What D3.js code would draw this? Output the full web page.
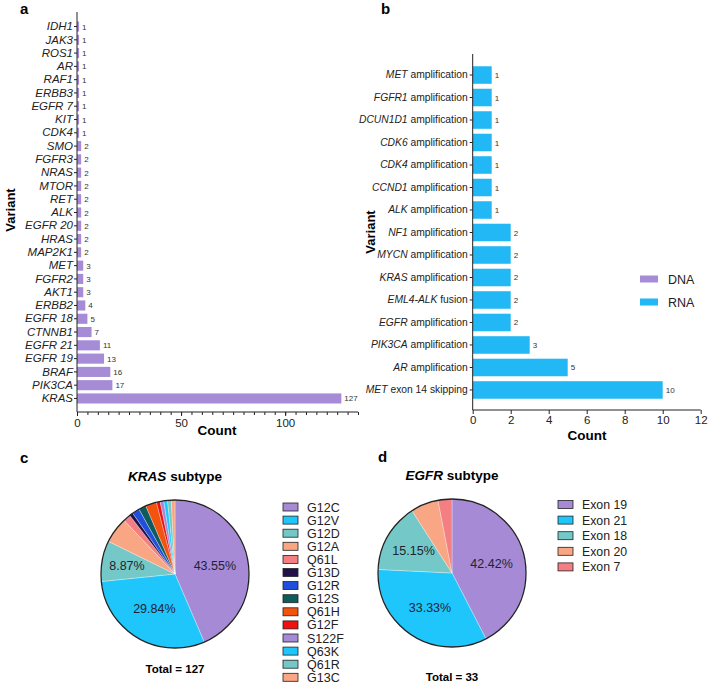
<!DOCTYPE html>
<html>
<head>
<meta charset="utf-8">
<script src="https://cdn.jsdelivr.net/npm/d3@7"></script>
<style>
  body { margin: 0; background: #fff; }
  svg { font-family: "Liberation Sans", Arial, sans-serif; }
  .axis path, .axis line { stroke: #222; }
  .axis text { fill: #222; }
</style>
</head>
<body>
<svg id="fig" width="709" height="693"></svg>
<script>
const dnaVariants = ["IDH1", "JAK3", "ROS1", "AR", "RAF1", "ERBB3", "EGFR 7", "KIT", "CDK4", "SMO", "FGFR3", "NRAS", "MTOR", "RET", "ALK", "EGFR 20", "HRAS", "MAP2K1", "MET", "FGFR2", "AKT1", "ERBB2", "EGFR 18", "CTNNB1", "EGFR 21", "EGFR 19", "BRAF", "PIK3CA", "KRAS"];
const dnaCounts = [1, 1, 1, 1, 1, 1, 1, 1, 1, 2, 2, 2, 2, 2, 2, 2, 2, 2, 3, 3, 3, 4, 5, 7, 11, 13, 16, 17, 127];

const rnaVariants = ["MET amplification", "FGFR1 amplification", "DCUN1D1 amplification", "CDK6 amplification", "CDK4 amplification", "CCND1 amplification", "ALK amplification", "NF1 amplification", "MYCN amplification", "KRAS amplification", "EML4-ALK fusion", "EGFR amplification", "PIK3CA amplification", "AR amplification", "MET exon 14 skipping"];
const rnaCounts = [1, 1, 1, 1, 1, 1, 1, 2, 2, 2, 2, 2, 3, 5, 10];

const krasTypes = ["G12C", "G12V", "G12D", "G12A", "Q61L", "G13D", "G12R", "G12S", "Q61H", "G12F", "S122F", "Q63K", "Q61R", "G13C"];
const krasCounts = [54, 37, 11, 7, 2, 1, 2, 2, 3, 1, 1, 1, 1, 1];
const krasTotal = 127;

const egfrTypes = ["Exon 19", "Exon 21", "Exon 18", "Exon 20", "Exon 7"];
const egfrCounts = [14, 11, 5, 2, 1];
const egfrTotal = 33;

const dnaColor = "#a68bd7";
const rnaColor = "#22b8f6";
const pieColors = ["#a68ad6", "#1ec6fc", "#74c9c8", "#f8a683", "#f47f83", "#23124a", "#1f4fdb", "#0e5c5e", "#f25410", "#f0100f", "#a68ad6", "#1ec6fc", "#74c9c8", "#f8a683"];

const svg = d3.select("#fig");

// panel letters
[["a", 20, 14], ["b", 381, 14], ["c", 20, 463], ["d", 378, 462]].forEach(([t, x, y]) => {
  svg.append("text").attr("x", x).attr("y", y)
    .attr("font-size", 15).attr("font-weight", "bold").text(t);
});

// ---- panel a: DNA bars
const xa = d3.scaleLinear().domain([0, 135]).range([77, 358]);
const ya = d3.scaleBand().domain(dnaVariants).range([18.3, 406.7]).padding(0.24);

const ga = svg.append("g");
ga.selectAll("rect")
  .data(dnaVariants)
  .join("rect")
  .attr("x", xa(0))
  .attr("y", d => ya(d))
  .attr("width", (d, i) => xa(dnaCounts[i]) - xa(0))
  .attr("height", ya.bandwidth())
  .attr("fill", dnaColor);

ga.selectAll(".val")
  .data(dnaVariants)
  .join("text")
  .attr("class", "val")
  .attr("x", (d, i) => xa(dnaCounts[i]) + 3)
  .attr("y", d => ya(d) + ya.bandwidth() / 2 + 3)
  .attr("font-size", 8)
  .attr("fill", "#333")
  .text((d, i) => dnaCounts[i]);

ga.append("g")
  .attr("class", "axis")
  .attr("transform", `translate(${xa(0)},0)`)
  .call(d3.axisLeft(ya).tickSize(3).tickPadding(1))
  .call(g => g.select(".domain").attr("d", "M0,12V412"))
  .call(g => g.selectAll("text").attr("font-size", 11.5).attr("font-style", "italic"));

ga.append("g")
  .attr("class", "axis")
  .attr("transform", "translate(0,412)")
  .call(d3.axisBottom(xa).tickValues(d3.range(0, 136, 5)).tickSize(3).tickFormat(""))
  .call(g => g.select(".domain").attr("d", `M${xa(0)},0H${xa(135)}`));

ga.append("g")
  .attr("class", "axis")
  .attr("transform", "translate(0,412)")
  .call(d3.axisBottom(xa).tickValues([0, 50, 100]).tickSize(4).tickPadding(3))
  .call(g => g.select(".domain").remove())
  .call(g => g.selectAll("text").attr("font-size", 11.5));

svg.append("text").attr("x", 217).attr("y", 435).attr("text-anchor", "middle")
  .attr("font-size", 13.5).attr("font-weight", "bold").text("Count");
svg.append("text").attr("transform", "translate(15,210) rotate(-90)").attr("text-anchor", "middle")
  .attr("font-size", 13).attr("font-weight", "bold").text("Variant");

// ---- panel b: RNA bars
const xb = d3.scaleLinear().domain([0, 12]).range([472.7, 700.7]);
const yb = d3.scaleBand().domain(rnaVariants).range([61.3, 403.7]).padding(0.22);

const gb = svg.append("g");
gb.selectAll("rect")
  .data(rnaVariants)
  .join("rect")
  .attr("x", xb(0))
  .attr("y", d => yb(d))
  .attr("width", (d, i) => xb(rnaCounts[i]) - xb(0))
  .attr("height", yb.bandwidth())
  .attr("fill", rnaColor);

gb.selectAll(".val")
  .data(rnaVariants)
  .join("text")
  .attr("class", "val")
  .attr("x", (d, i) => xb(rnaCounts[i]) + 3)
  .attr("y", d => yb(d) + yb.bandwidth() / 2 + 3)
  .attr("font-size", 8)
  .attr("fill", "#333")
  .text((d, i) => rnaCounts[i]);

gb.append("g")
  .attr("class", "axis")
  .attr("transform", `translate(${xb(0)},0)`)
  .call(d3.axisLeft(yb).tickSize(3).tickPadding(2).tickFormat(""))
  .call(g => g.select(".domain").attr("d", "M0,54V410"))
  .call(g => g.selectAll(".tick").append("text")
    .attr("x", -5).attr("dy", "0.32em").attr("text-anchor", "end")
    .attr("font-size", 10.3).attr("fill", "#222")
    .each(function (d) {
      const sp = d.indexOf(" ");
      const t = d3.select(this);
      t.append("tspan").attr("font-style", "italic").text(d.slice(0, sp));
      t.append("tspan").text(d.slice(sp));
    }));

gb.append("g")
  .attr("class", "axis")
  .attr("transform", "translate(0,410)")
  .call(d3.axisBottom(xb).tickValues(d3.range(0, 13, 2)).tickSize(4).tickPadding(2))
  .call(g => g.select(".domain").attr("d", `M${xb(0)},0H${xb(12)}`))
  .call(g => g.selectAll("text").attr("font-size", 11.5));

svg.append("text").attr("x", 587).attr("y", 440).attr("text-anchor", "middle")
  .attr("font-size", 13.5).attr("font-weight", "bold").text("Count");
svg.append("text").attr("transform", "translate(375,232) rotate(-90)").attr("text-anchor", "middle")
  .attr("font-size", 13).attr("font-weight", "bold").text("Variant");

// legend DNA / RNA
[["DNA", dnaColor, 279], ["RNA", rnaColor, 302]].forEach(([t, c, y]) => {
  svg.append("rect").attr("x", 640).attr("y", y - 3.5).attr("width", 18).attr("height", 7).attr("fill", c);
  svg.append("text").attr("x", 668).attr("y", y + 4.5).attr("font-size", 12.5).attr("fill", "#222").text(t);
});

// ---- pies
function drawPie(cx, cy, r, names, counts, labelPos, title, total, totalY, legX, legY, legStep, legFont) {
  const g = svg.append("g").attr("transform", `translate(${cx},${cy})`);
  const pie = d3.pie().sort(null).value(d => d)(counts);
  const arc = d3.arc().innerRadius(0).outerRadius(r);
  const sum = d3.sum(counts);

  g.selectAll("path")
    .data(pie)
    .join("path")
    .attr("d", arc)
    .attr("fill", (d, i) => pieColors[i])
    .attr("stroke", "#fff")
    .attr("stroke-opacity", 0.6)
    .attr("stroke-width", 0.5);

  g.append("circle").attr("r", r).attr("fill", "none").attr("stroke", "#222").attr("stroke-width", 1.3);

  // label radius per labelled slice
  g.selectAll(".pct")
    .data(pie.slice(0, labelPos.length))
    .join("text")
    .attr("class", "pct")
    .attr("transform", (d, i) => {
      const a = d3.arc().innerRadius(r * labelPos[i]).outerRadius(r * labelPos[i]);
      return `translate(${a.centroid(d)})`;
    })
    .attr("text-anchor", "middle")
    .attr("dy", "0.35em")
    .attr("font-size", 12.5)
    .attr("fill", "#1e2433")
    .text(d => (d.value / sum * 100).toFixed(2) + "%");

  const tt = svg.append("text").attr("x", cx).attr("y", cy - 93).attr("text-anchor", "middle")
    .attr("font-size", 13.5).attr("font-weight", "bold");
  const sp = title.indexOf(" ");
  tt.append("tspan").attr("font-style", "italic").text(title.slice(0, sp));
  tt.append("tspan").text(title.slice(sp));

  svg.append("text").attr("x", cx).attr("y", totalY).attr("text-anchor", "middle")
    .attr("font-size", 11.5).attr("font-weight", "bold").text("Total = " + total);

  const lg = svg.append("g");
  names.forEach((n, i) => {
    const y = legY + i * legStep;
    lg.append("rect").attr("x", legX).attr("y", y - 4).attr("width", 15).attr("height", 8)
      .attr("fill", pieColors[i]).attr("stroke", "#222").attr("stroke-width", 0.8);
    lg.append("text").attr("x", legX + 24).attr("y", y + 4.5).attr("font-size", legFont)
      .attr("fill", "#222").text(n);
  });
}

drawPie(175, 574, 74, krasTypes, krasCounts, [0.55, 0.55, 0.66], "KRAS subtype", krasTotal, 673, 283, 507, 13.1, 12.5);
drawPie(452, 573, 74, egfrTypes, egfrCounts, [0.55, 0.55, 0.6], "EGFR subtype", egfrTotal, 681, 558, 504.5, 15.6, 12.3);
</script>
</body>
</html>
